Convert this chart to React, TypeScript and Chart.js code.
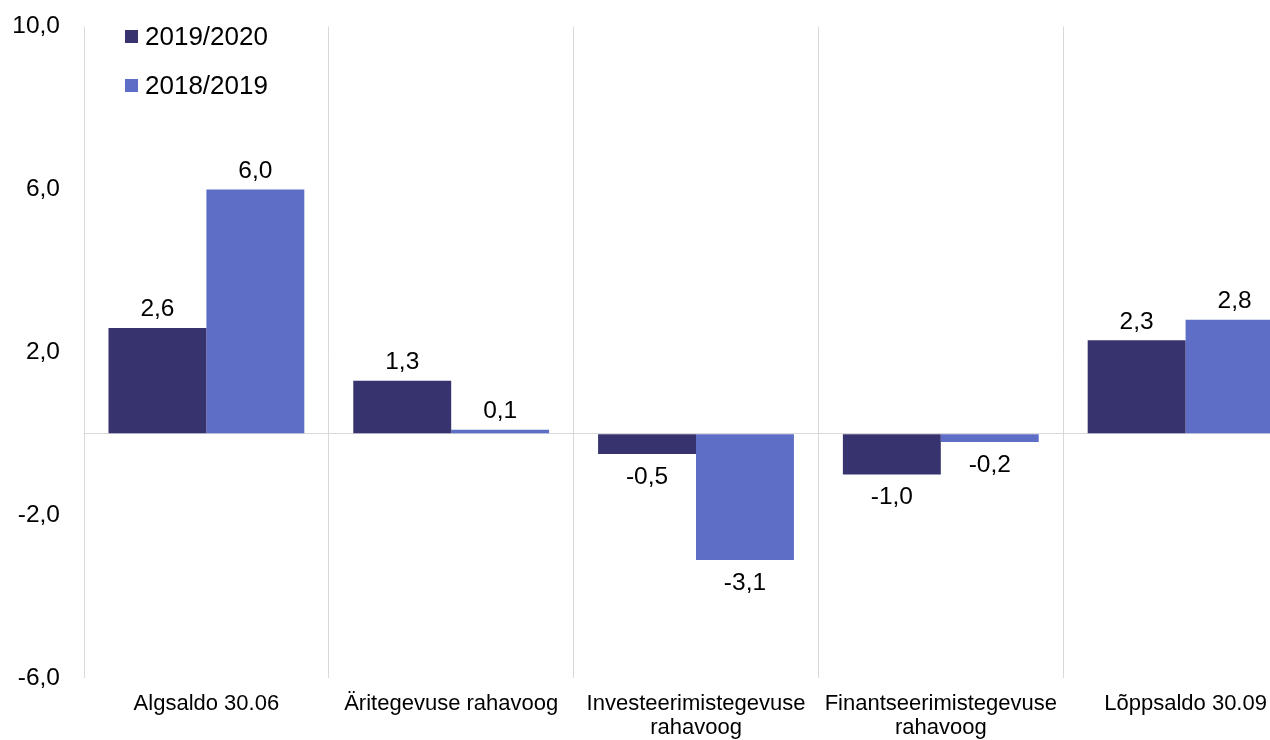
import React, { useEffect, useRef } from "react";
import { Chart, registerables } from "chart.js";

Chart.register(...registerables);

const categories: (string | string[])[] = [
  "Algsaldo 30.06",
  "Äritegevuse rahavoog",
  ["Investeerimistegevuse", "rahavoog"],
  ["Finantseerimistegevuse", "rahavoog"],
  "Lõppsaldo 30.09",
];
const series2020 = [2.6, 1.3, -0.5, -1.0, 2.3];
const series2019 = [6.0, 0.1, -3.1, -0.2, 2.8];
const seriesNames = ["2019/2020", "2018/2019"];
const seriesColors = ["#37336F", "#5E6EC7"];
const yMin = -6;
const yMax = 10;
const yStep = 2;
const yLabelStep = 4;

const FONT = "'Liberation Sans', Arial, Helvetica, sans-serif";
const fmt = (v: number) => v.toFixed(1).replace(".", ",");
const SHIFT = 12;

const labelPlugin = {
  id: "valueLabels",
  afterDatasetsDraw(chart: any) {
    const ctx = chart.ctx;
    ctx.save();
    ctx.font = `24.5px ${FONT}`;
    ctx.fillStyle = "#000";
    ctx.textAlign = "center";
    chart.data.datasets.forEach((ds: any, di: number) => {
      const meta = chart.getDatasetMeta(di);
      meta.data.forEach((bar: any, i: number) => {
        const v = ds.data[i];
        if (v >= 0) {
          ctx.textBaseline = "bottom";
          ctx.fillText(fmt(v), bar.x, bar.y - 6);
        } else {
          ctx.textBaseline = "top";
          ctx.fillText(fmt(v), bar.x, bar.y + 11);
        }
      });
    });
    ctx.restore();
  },
};

const legendPlugin = {
  id: "customLegend",
  afterDraw(chart: any) {
    const ctx = chart.ctx;
    ctx.save();
    ctx.font = `26px ${FONT}`;
    ctx.textBaseline = "middle";
    ctx.textAlign = "left";
    seriesNames.forEach((name, i) => {
      const y = SHIFT + 37 + i * 49;
      ctx.fillStyle = seriesColors[i];
      ctx.fillRect(125, y - 7, 13, 13);
      ctx.fillStyle = "#000";
      ctx.fillText(name, 145, y + 1);
    });
    ctx.restore();
  },
};

export default function App() {
  const ref = useRef<HTMLCanvasElement>(null);
  useEffect(() => {
    if (!ref.current) return;
    const chart = new Chart(ref.current, {
      type: "bar",
      data: {
        labels: categories as any,
        datasets: [
          { label: seriesNames[0], data: series2020, backgroundColor: seriesColors[0], categoryPercentage: 0.8, barPercentage: 1.0 },
          { label: seriesNames[1], data: series2019, backgroundColor: seriesColors[1], categoryPercentage: 0.8, barPercentage: 1.0 },
        ],
      },
      options: {
        animation: false,
        responsive: false,
        maintainAspectRatio: false,
        layout: { padding: { top: 2, right: 0, left: 0, bottom: 0 } },
        plugins: { legend: { display: false }, tooltip: { enabled: false } },
        scales: {
          x: {
            grid: { color: "#D9D9D9", drawTicks: false, offset: true },
            border: { display: false },
            ticks: { color: "#000", font: { family: FONT, size: 22, lineHeight: 1.1 }, padding: 14, maxRotation: 0, autoSkip: false },
            afterFit: (s: any) => { s.height = 62; },
          },
          y: {
            min: yMin,
            max: yMax,
            ticks: {
              stepSize: yStep,
              color: "#000",
              font: { family: FONT, size: 24.5 },
              padding: 24,
              callback: (v: any) => ((yMax - v) % yLabelStep === 0 ? fmt(Number(v)) : ""),
            },
            grid: {
              drawTicks: false,
              color: (c: any) => (c.tick && c.tick.value === 0 ? "#D9D9D9" : "rgba(0,0,0,0)"),
            },
            border: { display: false },
            afterFit: (s: any) => { s.width = 84; },
          },
        },
      },
      plugins: [labelPlugin, legendPlugin],
    });
    return () => chart.destroy();
  }, []);
  return (
    <div style={{ position: "fixed", left: 0, top: 0, width: 1270, height: 740, overflow: "hidden", background: "#fff" }}>
      <canvas ref={ref} width={1308} height={740 + SHIFT} style={{ display: "block", position: "absolute", left: 0, top: -SHIFT }} />
    </div>
  );
}
